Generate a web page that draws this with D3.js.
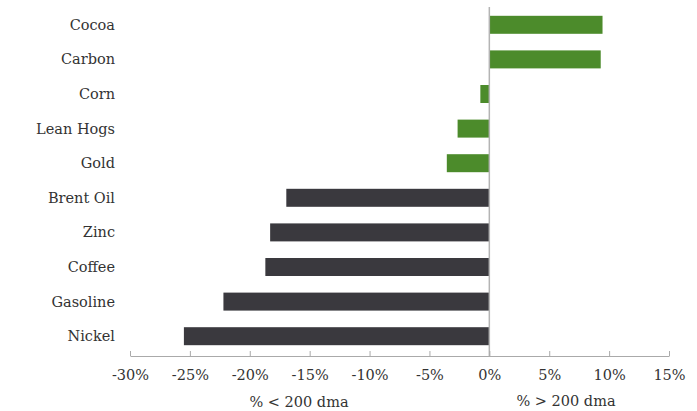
<!DOCTYPE html>
<html>
<head>
<meta charset="utf-8">
<script src="https://cdn.jsdelivr.net/npm/d3@7"></script>
<style>
  html, body { margin: 0; padding: 0; background: #fff; }
  svg text { font-family: Georgia, "DejaVu Serif", serif; fill: #333; }
</style>
</head>
<body>
<svg id="chart" width="697" height="411"></svg>
<script>
// Commodities, % distance from the 200-day moving average
const commodities = ["Cocoa", "Carbon", "Corn", "Lean Hogs", "Gold", "Brent Oil", "Zinc", "Coffee", "Gasoline", "Nickel"];
const pctFrom200dma = [9.45, 9.3, -0.75, -2.65, -3.55, -16.95, -18.3, -18.7, -22.2, -25.5];
const barGroup = ["green", "green", "green", "green", "green", "dark", "dark", "dark", "dark", "dark"];
const tickValues = [-30, -25, -20, -15, -10, -5, 0, 5, 10, 15];
const axisTitles = ["% < 200 dma", "% > 200 dma"];

const colors = { green: "#4c8b2b", dark: "#3a393e" };

const svg = d3.select("#chart");
const x = d3.scaleLinear().domain([-30, 15]).range([130, 669]);
const y = d3.scaleBand().domain(commodities).range([7.5, 353.5])
  .paddingInner(0.48).paddingOuter(0.24);
const axisY = 356;

const data = commodities.map((c, i) => ({ name: c, value: pctFrom200dma[i], group: barGroup[i] }));

// bars
svg.append("g").selectAll("rect").data(data).join("rect")
  .attr("x", d => x(Math.min(0, d.value)))
  .attr("y", d => y(d.name))
  .attr("width", d => Math.abs(x(d.value) - x(0)))
  .attr("height", y.bandwidth())
  .attr("fill", d => colors[d.group]);

// zero line
svg.append("line")
  .attr("x1", x(0)).attr("x2", x(0))
  .attr("y1", 7).attr("y2", axisY)
  .attr("stroke", "#b4b4b4").attr("stroke-width", 1.5);

// category labels
svg.append("g").selectAll("text").data(data).join("text")
  .attr("x", 115)
  .attr("y", d => y(d.name) + y.bandwidth() / 2)
  .attr("dy", "0.35em")
  .attr("text-anchor", "end")
  .style("font-size", "14.5px")
  .text(d => d.name);

// x axis, ticks pointing up
const xAxis = d3.axisBottom(x).tickValues(tickValues)
  .tickSize(-5).tickSizeOuter(0).tickPadding(14)
  .tickFormat(d => d + "%");
const gx = svg.append("g").attr("transform", `translate(0,${axisY})`).call(xAxis);
gx.select(".domain").attr("stroke", "#aaa");
gx.selectAll(".tick line").attr("stroke", "#aaa");
gx.selectAll(".tick text")
  .style("font-family", 'Georgia, "DejaVu Serif", serif')
  .style("font-size", "14.5px").attr("fill", "#333");

// axis titles
svg.append("text").attr("x", 299).attr("y", 407).attr("text-anchor", "middle")
  .style("font-size", "14.5px").text(axisTitles[0]);
svg.append("text").attr("x", 566).attr("y", 406).attr("text-anchor", "middle")
  .style("font-size", "14.5px").text(axisTitles[1]);
</script>
</body>
</html>
